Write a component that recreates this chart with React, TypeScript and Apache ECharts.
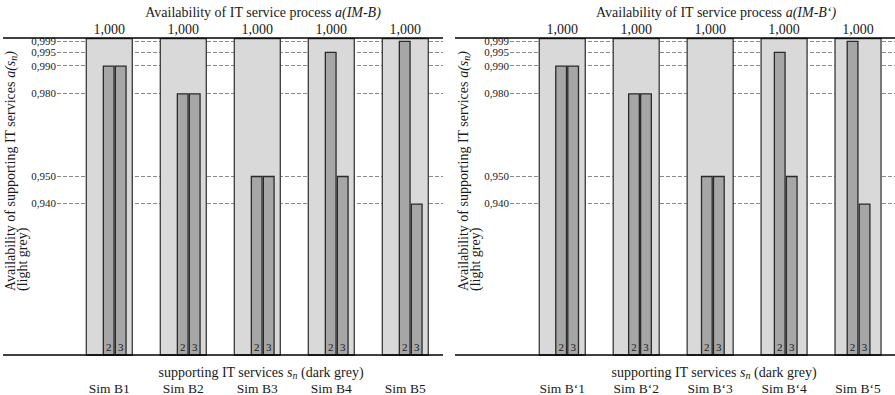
import React, { useEffect, useRef } from 'react';
import * as echarts from 'echarts';

const FONT = 'Liberation Serif, Times New Roman, serif';
const INK = '#1a1a1a';

const categoriesLeft = ['Sim B1', 'Sim B2', 'Sim B3', 'Sim B4', 'Sim B5'];
const categoriesRight = ['Sim B\u20181', 'Sim B\u20182', 'Sim B\u20183', 'Sim B\u20184', 'Sim B\u20185'];
const processLeft = [1.0, 1.0, 1.0, 1.0, 1.0];
const processRight = [1.0, 1.0, 1.0, 1.0, 1.0];
const service2Left = [0.99, 0.98, 0.95, 0.995, 0.999];
const service3Left = [0.99, 0.98, 0.95, 0.95, 0.94];
const service2Right = [0.99, 0.98, 0.95, 0.995, 0.999];
const service3Right = [0.99, 0.98, 0.95, 0.95, 0.94];
const yTickValues = [0.94, 0.95, 0.98, 0.99, 0.995, 0.999];
const serviceNames = ['2', '3'];
const Y_MIN = 0.885;
const Y_MAX = 1.0;

const fmt = (v: number) => v.toFixed(3).replace('.', ',');

const panels = [
  { dx: 0, cats: categoriesLeft, proc: processLeft, s2: service2Left, s3: service3Left, proc_name: 'a(IM-B)' },
  { dx: 453, cats: categoriesRight, proc: processRight, s2: service2Right, s3: service3Right, proc_name: 'a(IM-B\u2018)' },
];

function makeRich(size: number) {
  return {
    n: { fontSize: size, fontFamily: FONT, fontWeight: 'normal', fill: INK, lineHeight: size + 3 },
    i: { fontSize: size, fontFamily: FONT, fontWeight: 'normal', fill: INK, fontStyle: 'italic', lineHeight: size + 3 },
    s: { fontSize: Math.round(size * 0.68), fontFamily: FONT, fontWeight: 'normal', fill: INK, fontStyle: 'italic', lineHeight: Math.round(size * 0.68), verticalAlign: 'bottom' },
  };
}

const labelRich = (size: number) => ({ t: { fontSize: size, fontFamily: FONT, fontWeight: 'normal', color: INK } });

function buildOption() {
  const grid: any[] = [];
  const xAxis: any[] = [];
  const yAxis: any[] = [];
  const series: any[] = [];
  const graphic: any[] = [];

  panels.forEach((p, i) => {
    const dx = p.dx;
    const base = i * 3;
    grid.push({ left: 57 + dx, top: 38, width: i === 0 ? 386 : 385, height: 317 });
    grid.push({ left: 72.3 + dx, top: 38, width: 370, height: 317 });
    grid.push({ left: 77.7 + dx, top: 38, width: 370, height: 317 });

    xAxis.push({ type: 'value', gridIndex: base, min: 0, max: 1, show: false });
    xAxis.push({
      type: 'category', gridIndex: base + 1, data: p.cats,
      axisLine: { show: false }, axisTick: { show: false },
      axisLabel: { interval: 0, hideOverlap: false, margin: 26, formatter: (v: string) => '{t|' + v + '}', rich: labelRich(13.5) },
    });
    xAxis.push({ type: 'category', gridIndex: base + 2, data: p.cats, show: false });

    yAxis.push({
      type: 'value', gridIndex: base, min: Y_MIN, max: Y_MAX,
      axisLine: { show: false },
      axisTick: { show: false, customValues: yTickValues },
      axisLabel: {
        customValues: yTickValues, hideOverlap: false, margin: 1,
        formatter: (v: number) => '{t|' + fmt(v) + '}', rich: labelRich(11),
      },
      splitLine: { show: true, lineStyle: { type: [4, 2], color: '#8a8a8a', width: 1 } },
    });
    yAxis.push({ type: 'value', gridIndex: base + 1, min: Y_MIN, max: Y_MAX, show: false });
    yAxis.push({ type: 'value', gridIndex: base + 2, min: Y_MIN, max: Y_MAX, show: false });

    series.push({
      type: 'bar', name: 'process', xAxisIndex: base + 1, yAxisIndex: base + 1, data: p.proc,
      barWidth: 47.3, z: 2,
      itemStyle: { color: '#d9d9d9', borderColor: '#3a3a3a', borderWidth: 1.3 },
      label: {
        show: true, position: 'top', distance: 2,
        formatter: (q: any) => '{t|' + fmt(q.value) + '}', rich: labelRich(14),
      },
    });
    [p.s2, p.s3].forEach((vals, k) => {
      series.push({
        type: 'bar', name: 'service ' + serviceNames[k], xAxisIndex: base + 2, yAxisIndex: base + 2, data: vals,
        barWidth: 12, barGap: '0%', z: 3,
        itemStyle: { color: '#a6a6a6', borderColor: '#2a2a2a', borderWidth: 1.3 },
        label: {
          show: true, position: 'insideBottom', distance: 3,
          formatter: () => '{t|' + serviceNames[k] + '}', rich: labelRich(11),
        },
      });
    });

    const x0 = i === 0 ? 3 : 455;
    const x1 = i === 0 ? 443 : 895;
    graphic.push({ type: 'line', shape: { x1: x0, y1: 38, x2: x1, y2: 38 }, style: { stroke: '#000', lineWidth: 1.6 }, z: 10 });
    graphic.push({ type: 'line', shape: { x1: x0, y1: 355, x2: x1, y2: 355 }, style: { stroke: '#000', lineWidth: 1.6 }, z: 10 });

    graphic.push({
      type: 'text', x: 263 + dx, y: 12, z: 10,
      style: { text: '{n|Availability of IT service process }{i|' + p.proc_name + '}', rich: makeRich(14), align: 'center', verticalAlign: 'middle' },
    });
    graphic.push({
      type: 'text', x: 261 + dx, y: 372, z: 10,
      style: { text: '{n|supporting IT services }{i|s}{s|n}{n| (dark grey)}', rich: makeRich(14), align: 'center', verticalAlign: 'middle' },
    });
    graphic.push({
      type: 'text', x: 10 + dx, y: 291, rotation: Math.PI / 2, z: 10,
      style: { text: '{n|Availability of supporting IT services }{i|a(s}{s|n}{i|)}', rich: makeRich(14), align: 'left', verticalAlign: 'middle' },
    });
    graphic.push({
      type: 'text', x: 22 + dx, y: 291, rotation: Math.PI / 2, z: 10,
      style: { text: '{n|(light grey)}', rich: makeRich(14), align: 'left', verticalAlign: 'middle' },
    });
  });

  return {
    animation: false, backgroundColor: '#fff',
    textStyle: { fontFamily: FONT, fontWeight: 'normal', color: INK },
    grid, xAxis, yAxis, series, graphic,
  };
}

export default function App() {
  const ref = useRef<HTMLDivElement>(null);
  useEffect(() => {
    if (!ref.current) return;
    const chart = echarts.init(ref.current, null, { renderer: 'svg' });
    chart.setOption(buildOption() as any);
    return () => chart.dispose();
  }, []);
  return <div ref={ref} style={{ position: 'absolute', left: 0, top: 0, width: 895, height: 395 }} />;
}
